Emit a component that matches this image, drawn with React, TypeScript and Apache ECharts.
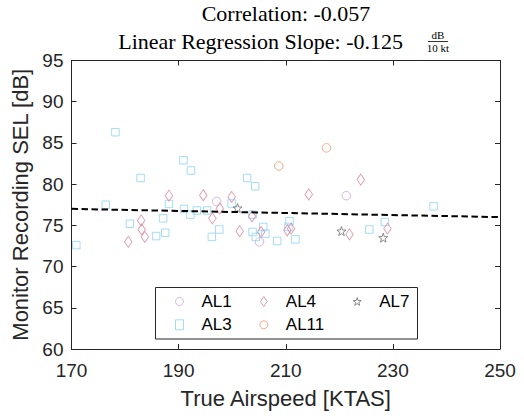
import React, { useEffect, useRef } from "react";
import * as echarts from "echarts";

// ---- Data ----
const xTickValues = [170, 190, 210, 230, 250];
const yTickValues = [60, 65, 70, 75, 80, 85, 90, 95];

const al1X = [197.1, 205.1, 221.3];
const al1Y = [77.9, 73.0, 78.6];

const al3X = [170.9, 178.2, 176.4, 180.9, 182.9, 185.8, 187.5, 187.1, 188.2, 190.9, 192.3, 191.0, 192.2, 193.4, 195.3, 196.2, 197.6, 199.9, 202.8, 204.3, 203.8, 203.8, 204.4, 205.8, 206.2, 208.4, 210.7, 210.5, 211.8, 225.6, 228.5, 237.6];
const al3Y = [72.6, 86.3, 77.5, 75.2, 80.75, 73.7, 74.1, 75.85, 77.6, 82.9, 81.65, 77.0, 76.3, 76.8, 76.8, 73.6, 74.5, 77.65, 80.75, 79.75, 76.3, 74.2, 73.6, 74.8, 74.0, 73.1, 75.5, 74.8, 73.3, 74.5, 75.4, 77.3];

const al4X = [180.6, 183.0, 183.1, 183.7, 188.2, 194.6, 196.3, 197.7, 199.9, 201.4, 203.7, 205.4, 210.3, 211.0, 214.3, 221.9, 224.0, 229.0];
const al4Y = [73.0, 75.6, 74.5, 73.6, 78.6, 78.65, 75.85, 77.05, 78.45, 74.3, 76.1, 74.2, 74.4, 74.6, 78.75, 73.9, 80.55, 74.6];

const al7X = [201.0, 220.4, 228.2];
const al7Y = [77.1, 74.3, 73.5];

const al11X = [208.7, 217.6];
const al11Y = [82.2, 84.4];

const regX = [170, 250];
const regY = [77.0, 76.0];

// ---- Styles ----
const C_AL1 = "#c9a3dc";
const C_AL3 = "#8dd3f5";
const C_AL4 = "#d98a9f";
const C_AL7 = "#6e6e6e";
const C_AL11 = "#ee946a";
const AXIS = "#262626";

const DIAMOND = "path://M0,-3L2,0L0,3L-2,0Z";
const STAR =
  "path://M0,-10L2.35,-3.24L9.51,-3.09L3.8,1.24L5.88,8.09L0,4L-5.88,8.09L-3.8,1.24L-9.51,-3.09L-2.35,-3.24Z";

const zip = (xs: number[], ys: number[]) => xs.map((x, i) => [x, ys[i]]);

const sansFont = "'Liberation Sans', Arial, Helvetica, sans-serif";
const serifFont = "'Liberation Serif', 'Times New Roman', serif";

function scatter(name: string, xs: number[], ys: number[], symbol: string, size: any, color: string) {
  return {
    name,
    type: "scatter",
    data: zip(xs, ys),
    symbol,
    symbolSize: size,
    itemStyle: { color: "rgba(0,0,0,0)", borderColor: color, borderWidth: 1 },
    emphasis: { disabled: true },
    z: 3,
  };
}

function legendItem(name: string, icon: string, color: string) {
  return {
    name,
    icon,
    itemStyle: { color: "rgba(0,0,0,0)", borderColor: color, borderWidth: 1 },
  };
}

const legendCommon = {
  orient: "vertical",
  padding: 0,
  itemGap: 6.3,
  itemWidth: 8,
  itemHeight: 10,
  selectedMode: false,
  textStyle: {
    color: "#000",
    fontSize: 17,
    fontFamily: sansFont,
    padding: [0, 0, 0, 13],
  },
  z: 5,
};

export default function App() {
  const ref = useRef<HTMLDivElement>(null);

  useEffect(() => {
    if (!ref.current) return;
    const chart = echarts.init(ref.current, null, { renderer: "svg" });

    const axisCommonX = {
      type: "value",
      min: 170,
      max: 250,
      interval: 10,
      splitLine: { show: false },
      axisLine: { show: true, onZero: false, lineStyle: { color: AXIS, width: 1 } },
      axisTick: { show: true, inside: true, length: 5, customValues: xTickValues, lineStyle: { color: AXIS, width: 1 } },
    };
    const axisCommonY = {
      type: "value",
      min: 60,
      max: 95,
      interval: 5,
      splitLine: { show: false },
      axisLine: { show: true, onZero: false, lineStyle: { color: AXIS, width: 1 } },
      axisTick: { show: true, inside: true, length: 5, customValues: yTickValues, lineStyle: { color: AXIS, width: 1 } },
    };

    const option: any = {
      animation: false,
      backgroundColor: "#ffffff",
      grid: { left: 71.5, right: 24, top: 60.5, bottom: 67, containLabel: false },
      xAxis: [
        {
          ...axisCommonX,
          position: "bottom",
          axisLabel: {
            color: AXIS,
            fontSize: 19,
            fontFamily: sansFont,
            margin: 12,
            customValues: xTickValues,
          },
          name: "True Airspeed [KTAS]",
          nameLocation: "middle",
          nameGap: 38,
          nameTextStyle: { color: AXIS, fontSize: 22, fontFamily: sansFont },
        },
        {
          ...axisCommonX,
          position: "top",
          axisLabel: { show: false },
        },
      ],
      yAxis: [
        {
          ...axisCommonY,
          position: "left",
          axisLabel: {
            color: AXIS,
            fontSize: 19,
            fontFamily: sansFont,
            margin: 8,
            customValues: yTickValues,
          },
          name: "Monitor Recording SEL [dB]",
          nameLocation: "middle",
          nameGap: 37,
          nameTextStyle: { color: AXIS, fontSize: 22, fontFamily: sansFont },
        },
        {
          ...axisCommonY,
          position: "right",
          axisLabel: { show: false },
        },
      ],
      legend: [
        {
          ...legendCommon,
          left: 175,
          top: 293,
          data: [legendItem("AL1", "circle", C_AL1), legendItem("AL3", "rect", C_AL3)],
        },
        {
          ...legendCommon,
          left: 259.3,
          top: 293,
          data: [legendItem("AL4", DIAMOND, C_AL4), legendItem("AL11", "circle", C_AL11)],
        },
        {
          ...legendCommon,
          left: 352.7,
          top: 293,
          data: [legendItem("AL7", STAR, C_AL7)],
        },
      ],
      graphic: [
        {
          type: "rect",
          z: 4,
          shape: { x: 155.5, y: 287.5, width: 262, height: 51.5 },
          style: { fill: "#ffffff", stroke: AXIS, lineWidth: 1 },
        },
        {
          type: "text",
          x: 286,
          y: 13.5,
          style: {
            text: "Correlation: -0.057",
            fill: "#000",
            font: `22px ${serifFont}`,
            align: "center",
            verticalAlign: "middle",
          },
        },
        {
          type: "text",
          x: 403,
          y: 41,
          style: {
            text: "Linear Regression Slope: -0.125",
            fill: "#000",
            font: `22px ${serifFont}`,
            align: "right",
            verticalAlign: "middle",
          },
        },
        {
          type: "text",
          x: 438,
          y: 34.5,
          style: {
            text: "dB",
            fill: "#000",
            font: `11px ${serifFont}`,
            align: "center",
            verticalAlign: "middle",
          },
        },
        {
          type: "line",
          shape: { x1: 428, y1: 41.5, x2: 448, y2: 41.5 },
          style: { stroke: "#000", lineWidth: 0.8 },
        },
        {
          type: "text",
          x: 438,
          y: 47.5,
          style: {
            text: "10 kt",
            fill: "#000",
            font: `11px ${serifFont}`,
            align: "center",
            verticalAlign: "middle",
          },
        },
      ],
      series: [
        scatter("AL1", al1X, al1Y, "circle", 8.5, C_AL1),
        scatter("AL3", al3X, al3Y, "rect", 7.5, C_AL3),
        scatter("AL4", al4X, al4Y, DIAMOND, [7.5, 11], C_AL4),
        scatter("AL11", al11X, al11Y, "circle", 8.5, C_AL11),
        scatter("AL7", al7X, al7Y, STAR, 9, C_AL7),
        {
          name: "Linear fit",
          type: "line",
          data: zip(regX, regY),
          symbol: "none",
          lineStyle: { color: "#000", width: 2, type: [6.5, 3.5] },
          emphasis: { disabled: true },
          z: 4,
        },
      ],
    };

    chart.setOption(option);
    return () => chart.dispose();
  }, []);

  return <div ref={ref} style={{ width: 524, height: 416, position: "absolute", left: 0, top: 0 }} />;
}
